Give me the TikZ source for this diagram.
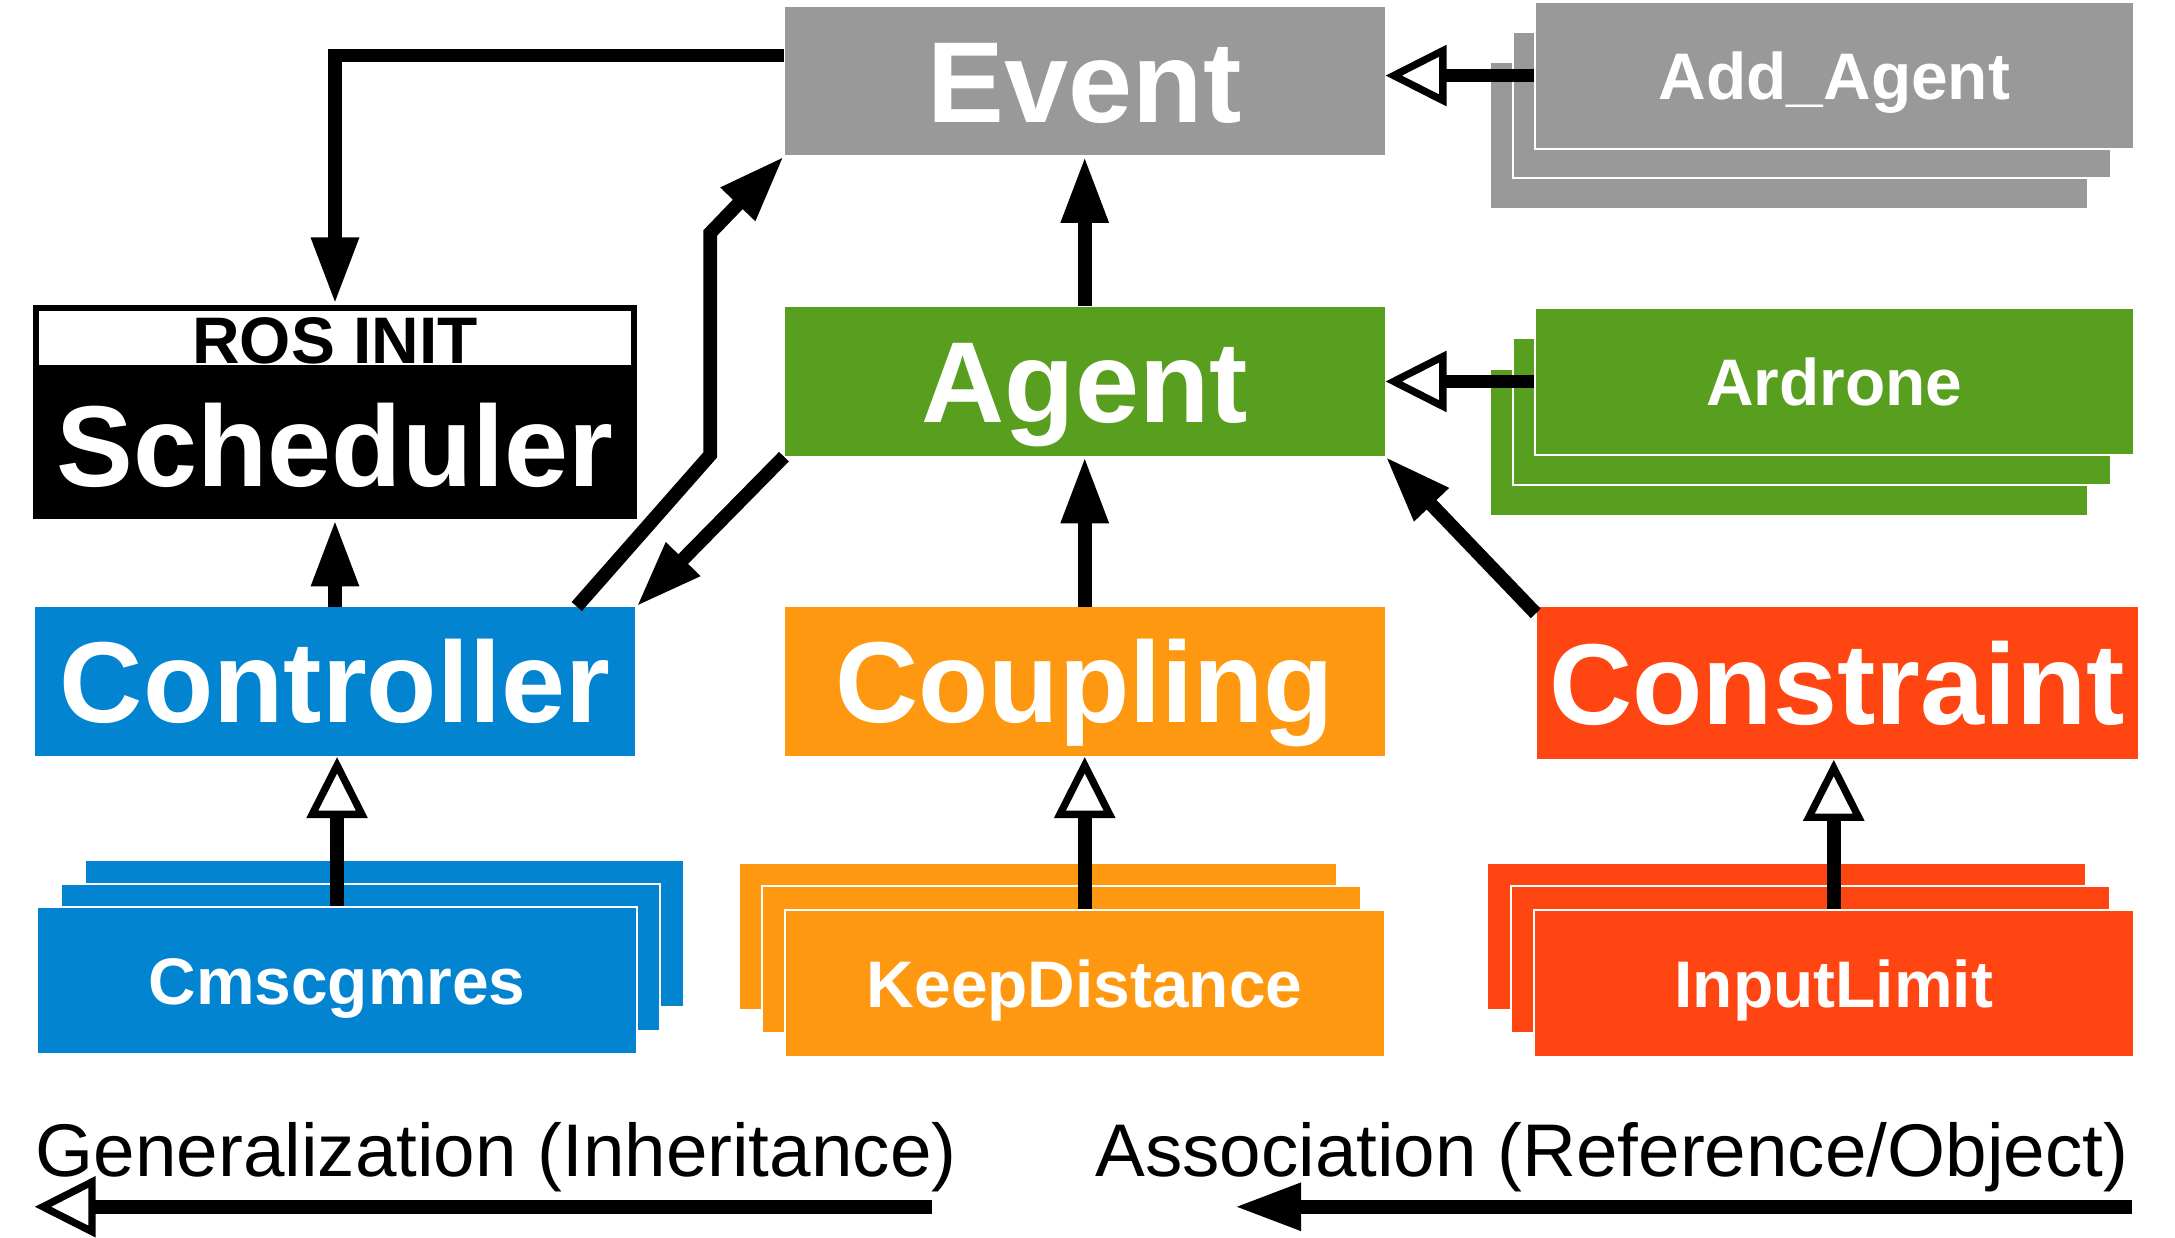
\documentclass[tikz,border=0pt]{standalone}
\usepackage{fontspec}
\setmainfont{Liberation Sans}
\usetikzlibrary{arrows.meta}
\definecolor{cgray}{HTML}{999999}
\definecolor{cgreen}{HTML}{589E1F}
\definecolor{cblue}{HTML}{0284D1}
\definecolor{corange}{HTML}{FE9810}
\definecolor{cred}{HTML}{FF4511}
\begin{document}
\begin{tikzpicture}[x=0.01cm,y=-0.01cm,
  bigtext/.style={inner sep=0pt, font=\fontsize{23.6}{24}\selectfont\bfseries, text height=0.594cm, text depth=0pt},
  smalltext/.style={inner sep=0pt, font=\fontsize{13.5}{14}\selectfont\bfseries, text height=0.34cm, text depth=0pt},
  bigbox/.style={bigtext, rectangle, minimum width=4.32cm, minimum height=1.07cm, text=white},
  smallbox/.style={smalltext, rectangle, minimum width=4.31cm, minimum height=1.06cm, text=white,
    draw=white, line width=0.4pt},
  layer/.style={draw=white, line width=0.4pt},
  legend/.style={inner sep=0pt, font=\fontsize{15.3}{16}\selectfont},
  assoc/.style={line width=2.8pt, -{Triangle[length=0.48cm,width=0.32cm]}},
  gen/.style={line width=2.8pt, -{Triangle[open,length=0.44cm,width=0.43cm,line width=1.5pt,fill=white]}}
]
\useasboundingbox (0,0) rectangle (1568,892);
% main boxes
\node[bigbox, fill=cgray] (event) at (782,58.5) {Event};
\node[bigbox, fill=cgreen] (agent) at (782,275) {Agent};
\node[bigbox, fill=cblue, minimum width=4.33cm] (ctrl) at (241.5,491.5) {Controller};
\node[bigbox, fill=corange] (coup) at (782,491.5) {Coupling};
\node[bigbox, fill=cred, minimum width=4.33cm, minimum height=1.09cm] (cons) at (1324.5,492.5) {Constraint};
% scheduler
\node[rectangle, fill=black, inner sep=0pt, minimum width=4.35cm, minimum height=1.54cm] (sched) at (241.5,297) {};
\fill[white] (28,224) rectangle (455,263);
\node[smalltext] (rosinit) at (241.5,245) {ROS INIT};
\node[bigtext, text=white] (schedtext) at (241.5,321) {Scheduler};
% Add_Agent stack
\filldraw[fill=cgray, layer] (1074,45) rectangle (1505,151);
\filldraw[fill=cgray, layer] (1091,23) rectangle (1522,128);
\node[smallbox, fill=cgray] (addag) at (1322.5,54.5) {Add\_Agent};
% Ardrone stack
\filldraw[fill=cgreen, layer] (1074,266) rectangle (1505,372);
\filldraw[fill=cgreen, layer] (1091,244) rectangle (1522,350);
\node[smallbox, fill=cgreen] (ard) at (1322.5,275) {Ardrone};
% Cmscgmres stack
\filldraw[fill=cblue, layer] (61,620) rectangle (493,726);
\filldraw[fill=cblue, layer] (44,637) rectangle (476,743);
\node[smallbox, fill=cblue, minimum width=4.32cm] (cms) at (243,707) {Cmscgmres};
% KeepDistance stack
\filldraw[fill=corange, layer] (533,622) rectangle (964,728);
\filldraw[fill=corange, layer] (549,639) rectangle (981,745);
\node[smallbox, fill=corange, minimum width=4.32cm] (keep) at (782,709) {KeepDistance};
% InputLimit stack
\filldraw[fill=cred, layer] (1072,622) rectangle (1504,728);
\filldraw[fill=cred, layer] (1089,639) rectangle (1521,745);
\node[smallbox, fill=cred, minimum width=4.32cm] (inp) at (1322,709) {InputLimit};
% association arrows
\coordinate (c1) at (241.5,40);
\draw[assoc] (event.west |- c1) -- (c1) -- (sched.north);
\coordinate (c2) at (512,328);
\coordinate (c3) at (512,168);
\draw[assoc] ([xshift=-0.43cm]ctrl.north east) -- (c2) -- (c3) -- (event.south west);
\draw[assoc] (agent.south west) -- (ctrl.north east);
\draw[assoc] (ctrl.north) -- (sched.south);
\draw[assoc] (agent.north) -- (event.south);
\draw[assoc] (coup.north) -- (agent.south);
\draw[assoc] ([yshift=-0.05cm]cons.north west) -- (agent.south east);
% generalization arrows
\draw[gen] (addag.west) -- (event.east |- addag.west);
\draw[gen] (ard.west) -- (agent.east |- ard.west);
\draw[gen] (cms.north) -- (cms.north |- ctrl.south);
\draw[gen] (keep.north) -- (coup.south);
\draw[gen] (inp.north) -- (inp.north |- cons.south);
% legend
\node[legend, anchor=base west] (genlabel) at (25,848) {Generalization (Inheritance)};
\node[legend, anchor=base east] (asslabel) at (1535,848) {Association (Reference/Object)};
\coordinate (g1) at (672,870);
\coordinate (g2) at (25,870);
\draw[gen] (g1) -- (g2);
\coordinate (a1) at (1537,870);
\coordinate (a2) at (890,870);
\draw[assoc] (a1) -- (a2);
\end{tikzpicture}
\end{document}
